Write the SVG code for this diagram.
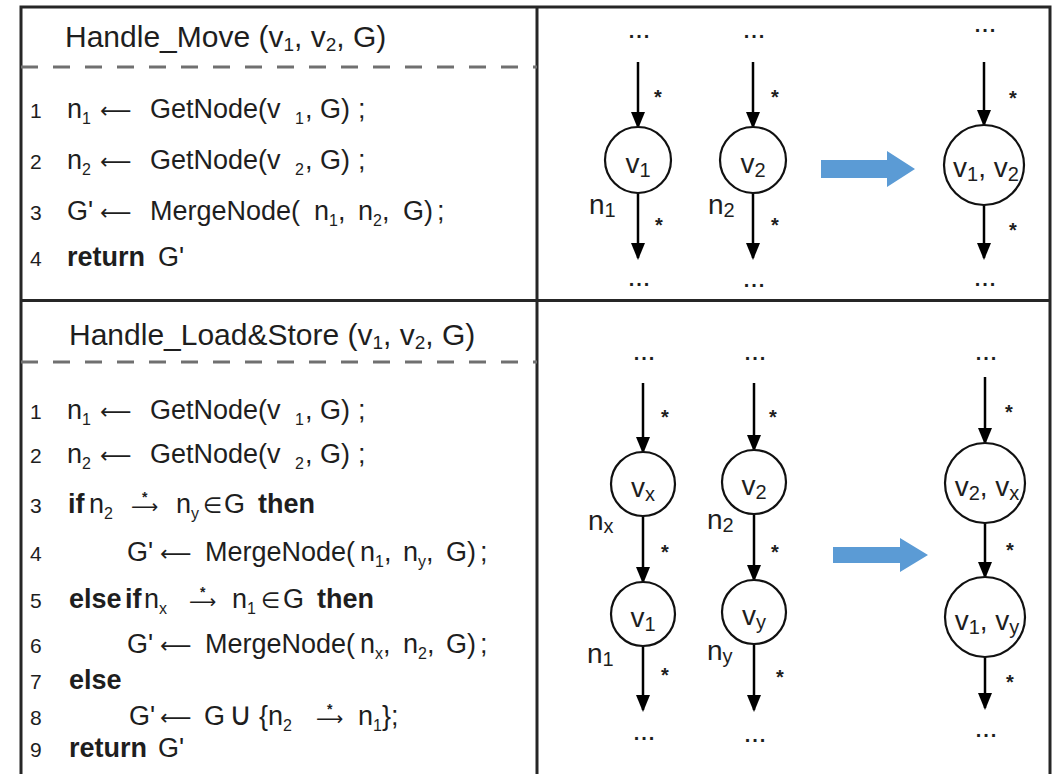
<svg xmlns="http://www.w3.org/2000/svg" width="1059" height="774" viewBox="0 0 1059 774">
<style>
.frame{fill:none;stroke:#262626;stroke-width:3}
.dash{stroke:#707070;stroke-width:3;stroke-dasharray:17 15}
.t{font-family:"Liberation Sans","DejaVu Sans",sans-serif;fill:#1e1e1e}
.title{font-size:30px}
.ts{font-size:19px}
.c{font-size:27px}
.b{font-weight:bold}
.ln{font-size:21px}
.s{font-size:16px}
.sym{font-family:"DejaVu Sans",sans-serif;font-size:22px}
.arr{font-family:"DejaVu Sans",sans-serif;font-size:22px}
.arr2{font-family:"DejaVu Sans",sans-serif;font-size:19px}
.uni{font-family:"DejaVu Sans",sans-serif;font-size:32px}
.ast2{font-family:"Liberation Sans",sans-serif;font-size:14px;font-weight:bold}
.nd circle{fill:#fff;stroke:#111;stroke-width:2.2}
.lbl{font-size:28px;text-anchor:middle}
.ls{font-size:20px}
.nl{font-size:28px}
.dots{font-size:20px;font-weight:bold;letter-spacing:2px;text-anchor:middle}
.ast{font-size:20px;font-weight:bold;text-anchor:middle}
.edge{stroke:#000;stroke-width:2.5;fill:none;marker-end:url(#ah)}
.blue{fill:#5B9BD5}
</style>
<defs>
<marker id="ah" viewBox="0 0 17 14" refX="15" refY="7" markerWidth="17" markerHeight="14" markerUnits="userSpaceOnUse" orient="auto">
<path d="M0,0 L17,7 L0,14 z" fill="#000"/>
</marker>
</defs>
<rect width="1059" height="774" fill="#fff"/>

<g id="frame">
<path class="frame" d="M21,774 V7 H1050 V774"/>
<path class="frame" d="M537,7 V774 M21,300.5 H1050"/>
<line class="dash" x1="21" y1="67" x2="537" y2="67"/>
<line class="dash" x1="21" y1="362" x2="537" y2="362"/>
</g>

<g id="handle-move-code">
<text class="t title" x="65" y="47">Handle_Move (v<tspan class="ts" dy="4">1</tspan><tspan dy="-4">, v</tspan><tspan class="ts" dy="4">2</tspan><tspan dy="-4">, G)</tspan></text>
<text class="t ln" x="30" y="118">1</text>
<text class="t c" y="118"><tspan x="67">n</tspan><tspan class="s" dy="6">1</tspan><tspan class="arr" x="100" dy="-6">⟵</tspan><tspan x="150">GetNode(v</tspan><tspan class="s" x="295" dy="6">1</tspan><tspan x="305" dy="-6">, G)</tspan><tspan x="358">;</tspan></text>
<text class="t ln" x="30" y="169">2</text>
<text class="t c" y="169"><tspan x="67">n</tspan><tspan class="s" dy="6">2</tspan><tspan class="arr" x="100" dy="-6">⟵</tspan><tspan x="150">GetNode(v</tspan><tspan class="s" x="295" dy="6">2</tspan><tspan x="305" dy="-6">, G)</tspan><tspan x="358">;</tspan></text>
<text class="t ln" x="30" y="220">3</text>
<text class="t c" y="220"><tspan x="67">G'</tspan><tspan class="arr" x="100">⟵</tspan><tspan x="150">MergeNode(</tspan><tspan x="314">n</tspan><tspan class="s" dy="6">1</tspan><tspan dy="-6">,</tspan><tspan x="358">n</tspan><tspan class="s" dy="6">2</tspan><tspan dy="-6">,</tspan><tspan x="403">G)</tspan><tspan x="437">;</tspan></text>
<text class="t ln" x="30" y="266">4</text>
<text class="t c" y="266"><tspan class="b" x="67">return</tspan><tspan x="158">G'</tspan></text>
</g>

<g id="handle-loadstore-code">
<text class="t title" x="69" y="345">Handle_Load&amp;Store (v<tspan class="ts" dy="4">1</tspan><tspan dy="-4">, v</tspan><tspan class="ts" dy="4">2</tspan><tspan dy="-4">, G)</tspan></text>
<text class="t ln" x="30" y="419">1</text>
<text class="t c" y="419"><tspan x="67">n</tspan><tspan class="s" dy="6">1</tspan><tspan class="arr" x="100" dy="-6">⟵</tspan><tspan x="150">GetNode(v</tspan><tspan class="s" x="295" dy="6">1</tspan><tspan x="305" dy="-6">, G)</tspan><tspan x="358">;</tspan></text>
<text class="t ln" x="30" y="463">2</text>
<text class="t c" y="463"><tspan x="67">n</tspan><tspan class="s" dy="6">2</tspan><tspan class="arr" x="100" dy="-6">⟵</tspan><tspan x="150">GetNode(v</tspan><tspan class="s" x="295" dy="6">2</tspan><tspan x="305" dy="-6">, G)</tspan><tspan x="358">;</tspan></text>
<text class="t ln" x="30" y="513">3</text>
<text class="t c" y="513"><tspan class="b" x="68">if</tspan><tspan x="89">n</tspan><tspan class="s" dy="6">2</tspan><tspan class="arr2" x="131" dy="-6">⟶</tspan><tspan class="ast2" x="142" dy="-11">*</tspan><tspan x="176" dy="11">n</tspan><tspan class="s" dy="6">y</tspan><tspan class="sym" x="203" dy="-6">∈</tspan><tspan x="224">G</tspan><tspan class="b" x="258">then</tspan></text>
<text class="t ln" x="30" y="561">4</text>
<text class="t c" y="561"><tspan x="127">G'</tspan><tspan class="arr" x="160">⟵</tspan><tspan x="205">MergeNode(</tspan><tspan x="360">n</tspan><tspan class="s" dy="6">1</tspan><tspan dy="-6">,</tspan><tspan x="403">n</tspan><tspan class="s" dy="6">y</tspan><tspan dy="-6">,</tspan><tspan x="446">G)</tspan><tspan x="480">;</tspan></text>
<text class="t ln" x="30" y="608">5</text>
<text class="t c" y="608"><tspan class="b" x="69">else</tspan><tspan class="b" x="125">if</tspan><tspan x="144">n</tspan><tspan class="s" dy="6">x</tspan><tspan class="arr2" x="189" dy="-6">⟶</tspan><tspan class="ast2" x="200" dy="-11">*</tspan><tspan x="232" dy="11">n</tspan><tspan class="s" dy="6">1</tspan><tspan class="sym" x="261" dy="-6">∈</tspan><tspan x="283">G</tspan><tspan class="b" x="317">then</tspan></text>
<text class="t ln" x="30" y="653">6</text>
<text class="t c" y="653"><tspan x="127">G'</tspan><tspan class="arr" x="160">⟵</tspan><tspan x="205">MergeNode(</tspan><tspan x="360">n</tspan><tspan class="s" dy="6">x</tspan><tspan dy="-6">,</tspan><tspan x="403">n</tspan><tspan class="s" dy="6">2</tspan><tspan dy="-6">,</tspan><tspan x="446">G)</tspan><tspan x="480">;</tspan></text>
<text class="t ln" x="30" y="689">7</text>
<text class="t c" y="689"><tspan class="b" x="69">else</tspan></text>
<text class="t ln" x="30" y="725">8</text>
<text class="t c" y="725"><tspan x="129">G'</tspan><tspan class="arr" x="160">⟵</tspan><tspan x="204">G</tspan><tspan class="uni" x="229">∪</tspan><tspan x="259">{n</tspan><tspan class="s" dy="6">2</tspan><tspan class="arr2" x="316" dy="-6">⟶</tspan><tspan class="ast2" x="327" dy="-11">*</tspan><tspan x="358" dy="11">n</tspan><tspan class="s" dy="6">1</tspan><tspan dy="-6">};</tspan></text>
<text class="t ln" x="30" y="757">9</text>
<text class="t c" y="757"><tspan class="b" x="69">return</tspan><tspan x="158">G'</tspan></text>
</g>

<g id="connectors">
<line class="edge" x1="638" y1="62" x2="638" y2="127"/>
<line class="edge" x1="753" y1="62" x2="753" y2="127"/>
<line class="edge" x1="984" y1="62" x2="984" y2="125"/>
<line class="edge" x1="638" y1="193" x2="638" y2="258"/>
<line class="edge" x1="753" y1="193" x2="753" y2="258"/>
<line class="edge" x1="984" y1="205" x2="984" y2="258"/>
<line class="edge" x1="643" y1="383" x2="643" y2="452"/>
<line class="edge" x1="754" y1="383" x2="754" y2="450"/>
<line class="edge" x1="985" y1="377" x2="985" y2="443"/>
<line class="edge" x1="643" y1="516" x2="643" y2="582"/>
<line class="edge" x1="754" y1="514" x2="754" y2="580"/>
<line class="edge" x1="985" y1="523" x2="985" y2="577"/>
<line class="edge" x1="643" y1="646" x2="643" y2="710"/>
<line class="edge" x1="754" y1="644" x2="754" y2="710"/>
<line class="edge" x1="985" y1="657" x2="985" y2="708"/>
</g>

<g id="edge-marks">
<text class="t ast" x="658" y="104">*</text>
<text class="t ast" x="775" y="104">*</text>
<text class="t ast" x="1013" y="105">*</text>
<text class="t ast" x="659" y="232">*</text>
<text class="t ast" x="775" y="232">*</text>
<text class="t ast" x="1013" y="237">*</text>
<text class="t ast" x="665" y="424">*</text>
<text class="t ast" x="773" y="424">*</text>
<text class="t ast" x="1009" y="419">*</text>
<text class="t ast" x="665" y="559">*</text>
<text class="t ast" x="775" y="559">*</text>
<text class="t ast" x="1010" y="557">*</text>
<text class="t ast" x="665" y="682">*</text>
<text class="t ast" x="780" y="684">*</text>
<text class="t ast" x="1010" y="689">*</text>
<text class="t dots" x="640" y="38">...</text>
<text class="t dots" x="755" y="38">...</text>
<text class="t dots" x="986" y="32">...</text>
<text class="t dots" x="640" y="286">...</text>
<text class="t dots" x="755" y="287">...</text>
<text class="t dots" x="986" y="286">...</text>
<text class="t dots" x="645" y="360">...</text>
<text class="t dots" x="756" y="360">...</text>
<text class="t dots" x="987" y="360">...</text>
<text class="t dots" x="645" y="740">...</text>
<text class="t dots" x="756" y="742">...</text>
<text class="t dots" x="987" y="737">...</text>
</g>

<g id="node-v1-top" class="nd">
<circle cx="638" cy="160" r="33"/>
<text class="t lbl" x="638" y="173">v<tspan class="ls" dy="4">1</tspan></text>
<text class="t nl" x="589" y="214">n<tspan class="ls" dy="3">1</tspan></text>
</g>
<g id="node-v2-top" class="nd">
<circle cx="753" cy="160" r="33"/>
<text class="t lbl" x="753" y="173">v<tspan class="ls" dy="4">2</tspan></text>
<text class="t nl" x="708" y="214">n<tspan class="ls" dy="3">2</tspan></text>
</g>
<g id="node-v1v2" class="nd">
<circle cx="984" cy="165" r="40"/>
<text class="t lbl" x="986" y="177">v<tspan class="ls" dy="4">1</tspan><tspan dy="-4">, v</tspan><tspan class="ls" dy="4">2</tspan></text>
</g>

<g id="node-vx" class="nd">
<circle cx="643" cy="484" r="32"/>
<text class="t lbl" x="643" y="497">v<tspan class="ls" dy="4">x</tspan></text>
<text class="t nl" x="588" y="530">n<tspan class="ls" dy="3">x</tspan></text>
</g>
<g id="node-v2-bottom" class="nd">
<circle cx="754" cy="482" r="32"/>
<text class="t lbl" x="754" y="495">v<tspan class="ls" dy="4">2</tspan></text>
<text class="t nl" x="707" y="529">n<tspan class="ls" dy="3">2</tspan></text>
</g>
<g id="node-v1-bottom" class="nd">
<circle cx="643" cy="614" r="32"/>
<text class="t lbl" x="643" y="627">v<tspan class="ls" dy="4">1</tspan></text>
<text class="t nl" x="587" y="663">n<tspan class="ls" dy="3">1</tspan></text>
</g>
<g id="node-vy" class="nd">
<circle cx="754" cy="612" r="32"/>
<text class="t lbl" x="754" y="625">v<tspan class="ls" dy="4">y</tspan></text>
<text class="t nl" x="707" y="660">n<tspan class="ls" dy="3">y</tspan></text>
</g>
<g id="node-v2vx" class="nd">
<circle cx="985" cy="483" r="40"/>
<text class="t lbl" x="987" y="496">v<tspan class="ls" dy="4">2</tspan><tspan dy="-4">, v</tspan><tspan class="ls" dy="4">x</tspan></text>
</g>
<g id="node-v1vy" class="nd">
<circle cx="985" cy="617" r="40"/>
<text class="t lbl" x="987" y="630">v<tspan class="ls" dy="4">1</tspan><tspan dy="-4">, v</tspan><tspan class="ls" dy="4">y</tspan></text>
</g>

<g id="transform-arrows">
<polygon class="blue" points="821,160 887,160 887,151 915,169 887,187 887,178 821,178"/>
<polygon class="blue" points="833,547 900,547 900,538 928,555 900,572 900,563 833,563"/>
</g>
</svg>
